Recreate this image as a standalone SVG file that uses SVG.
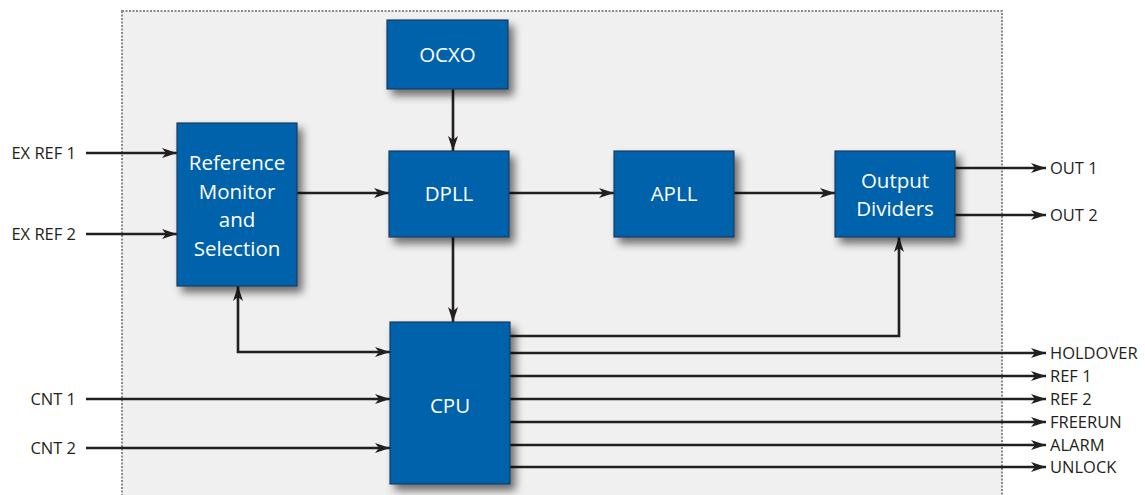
<svg xmlns="http://www.w3.org/2000/svg" width="1145" height="495" viewBox="0 0 1145 495">
<defs>
<marker id="ah" markerWidth="16" markerHeight="12" refX="15" refY="6" orient="auto-start-reverse" markerUnits="userSpaceOnUse">
<path d="M0,1 L15,6 L0,11 L4,6 Z" fill="#231f20"/>
</marker>
<filter id="sh" x="-20%" y="-20%" width="150%" height="150%">
<feGaussianBlur in="SourceAlpha" stdDeviation="4"/>
<feOffset dx="5" dy="6" result="b"/>
<feComponentTransfer><feFuncA type="linear" slope="0.55"/></feComponentTransfer>
<feMerge><feMergeNode/><feMergeNode in="SourceGraphic"/></feMerge>
</filter>
</defs>
<style>
.box{fill:#0062ab;stroke:#1d3b5a;stroke-width:1.2;filter:url(#sh)}
.bt{fill:#ffffff;font-family:"Open Sans","Liberation Sans",sans-serif;font-size:20.5px;text-anchor:middle}
.lb{fill:#231f20;font-family:"Open Sans","Liberation Sans",sans-serif;font-size:16.5px}
.c{stroke:#231f20;stroke-width:2.6;fill:none}
.a{marker-end:url(#ah)}
</style>
<rect x="122" y="11" width="880" height="500" fill="#f0f0f0" stroke="#8a8a8a" stroke-width="2" stroke-dasharray="2,1.5"/>
<g id="connectors">
<line class="c a" x1="86" y1="153" x2="177" y2="153"/>
<line class="c a" x1="86" y1="234" x2="177" y2="234"/>
<line class="c a" x1="297" y1="193" x2="389" y2="193"/>
<line class="c a" x1="453" y1="89" x2="453" y2="151"/>
<line class="c a" x1="509" y1="193" x2="614" y2="193"/>
<line class="c a" x1="734" y1="193" x2="835" y2="193"/>
<line class="c a" x1="453" y1="237" x2="453" y2="322"/>
<path class="c" d="M238,286 L238,352 L390,352" marker-start="url(#ah)" marker-end="url(#ah)"/>
<line class="c a" x1="86" y1="399" x2="390" y2="399"/>
<line class="c a" x1="86" y1="448" x2="390" y2="448"/>
<line class="c a" x1="955" y1="168" x2="1046" y2="168"/>
<line class="c a" x1="955" y1="215" x2="1046" y2="215"/>
<path class="c a" d="M510,336 L899,336 L899,237"/>
<line class="c a" x1="510" y1="353" x2="1046" y2="353"/>
<line class="c a" x1="510" y1="376" x2="1046" y2="376"/>
<line class="c a" x1="510" y1="399" x2="1046" y2="399"/>
<line class="c a" x1="510" y1="422" x2="1046" y2="422"/>
<line class="c a" x1="510" y1="445" x2="1046" y2="445"/>
<line class="c a" x1="510" y1="467" x2="1046" y2="467"/>
</g>
<g id="ocxo"><rect class="box" x="387" y="20" width="121" height="69"/><text class="bt" x="447.5" y="62">OCXO</text></g>
<g id="refmon"><rect class="box" x="177" y="123" width="120" height="163"/>
<text class="bt" x="237" y="170">Reference</text><text class="bt" x="237" y="199">Monitor</text><text class="bt" x="237" y="227">and</text><text class="bt" x="237" y="256">Selection</text></g>
<g id="dpll"><rect class="box" x="389" y="151" width="120" height="86"/><text class="bt" x="449" y="201">DPLL</text></g>
<g id="apll"><rect class="box" x="614" y="151" width="120" height="86"/><text class="bt" x="674" y="201">APLL</text></g>
<g id="outdiv"><rect class="box" x="835" y="151" width="120" height="86"/><text class="bt" x="895" y="188">Output</text><text class="bt" x="895" y="216">Dividers</text></g>
<g id="cpu"><rect class="box" x="390" y="322" width="120" height="162"/><text class="bt" x="450" y="413">CPU</text></g>
<g id="labels">
<text class="lb" x="76" y="159" text-anchor="end">EX REF 1</text>
<text class="lb" x="76" y="240" text-anchor="end">EX REF 2</text>
<text class="lb" x="76" y="405" text-anchor="end">CNT 1</text>
<text class="lb" x="76" y="454" text-anchor="end">CNT 2</text>
<text class="lb" x="1050" y="174">OUT 1</text>
<text class="lb" x="1050" y="221">OUT 2</text>
<text class="lb" x="1050" y="359">HOLDOVER</text>
<text class="lb" x="1050" y="382">REF 1</text>
<text class="lb" x="1050" y="405">REF 2</text>
<text class="lb" x="1050" y="428">FREERUN</text>
<text class="lb" x="1050" y="451">ALARM</text>
<text class="lb" x="1050" y="473">UNLOCK</text>
</g>
</svg>
